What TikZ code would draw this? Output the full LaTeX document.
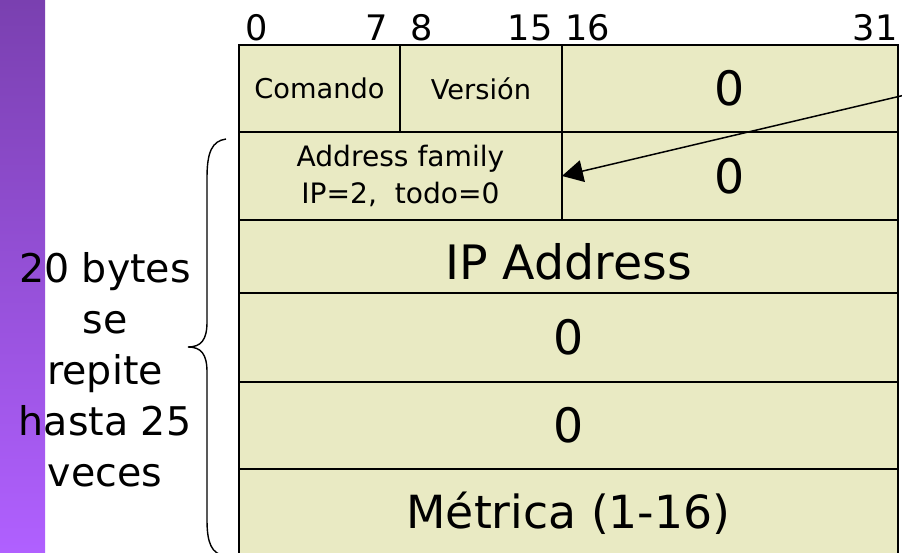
\documentclass[tikz,border=0pt]{standalone}
\usepackage{fontspec}
\setmainfont{DejaVu Sans}
\usetikzlibrary{%
  arrows.meta,%
  positioning,% wg. " of "
}

\definecolor{cellfill}{RGB}{233,234,195}
\definecolor{bartop}{RGB}{122,64,176}
\definecolor{barbot}{RGB}{176,96,255}

\tikzset{
  cell/.style={draw=black, line width=1pt, fill=cellfill, inner sep=0pt,
    outer sep=0pt, align=center},
  bitnum/.style={inner sep=0pt, font=\fontsize{20}{24}\selectfont},
  small/.style={font=\fontsize{15.5}{19}\selectfont},
  big/.style={font=\fontsize{27}{32}\selectfont},
}

\begin{document}
\begin{tikzpicture}[x=0.02cm, y=-0.02cm]
\useasboundingbox (0,0) rectangle (902,553);
\shade [top color=bartop, bottom color=barbot] (0,0) rectangle (45,553);

% bit numbers
\node [bitnum, anchor=base west] (b0)  at (245,41) {0};
\node [bitnum, anchor=base east] (b7)  at (388,41) {7};
\node [bitnum, anchor=base west] (b8)  at (410,41) {8};
\node [bitnum, anchor=base east] (b15) at (553,41) {15};
\node [bitnum, anchor=base west] (b16) at (565,41) {16};
\node [bitnum, anchor=base east] (b31) at (898,41) {31};

% header
\node [cell, small, anchor=north west, minimum width=3.22cm, minimum height=1.74cm] (cmd) at (239,45) {Comando};
\node [cell, small, right=0pt of cmd, minimum width=3.24cm, minimum height=1.74cm] (ver) {Versión};
\node [cell, big, right=0pt of ver, minimum width=6.72cm, minimum height=1.74cm] (zhd) {0};

% route entry
\node [cell, font=\fontsize{16}{21}\selectfont, below=0pt of cmd.south west, anchor=north west,
  minimum width=6.46cm, minimum height=1.76cm] (fam) {Address family\\IP=2,~ todo=0};
\node [cell, big, right=0pt of fam, minimum width=6.72cm, minimum height=1.76cm] (ztag) {0};
\node [cell, big, below=0pt of fam.south west, anchor=north west,
  minimum width=13.18cm, minimum height=1.46cm] (ip) {\raisebox{-0.1cm}[\height][\depth]{IP Address}};
\node [cell, big, below=0pt of ip, minimum width=13.18cm, minimum height=1.78cm] (zmask) {0};
\node [cell, big, below=0pt of zmask, minimum width=13.18cm, minimum height=1.74cm] (zhop) {0};
\node [cell, font=\fontsize{26}{31}\selectfont, below=0pt of zhop, minimum width=13.18cm,
  minimum height=1.78cm] (met) {Métrica (1-16)};

% arrow
\coordinate (src) at (905,95);
\draw [-{Triangle[length=4.2mm, width=4.4mm]}, line width=0.85pt] (src) -- (fam.east);

% brace
\draw [line width=0.8pt] (226,139) .. controls (212,141) and (207,152) .. (207,178)
  -- (207,322) .. controls (207,340) and (201,347) .. (188,347)
  .. controls (201,347) and (207,354) .. (207,372)
  -- (207,520) .. controls (207,544) and (212,553) .. (224,556);
\node [font=\fontsize{22.5}{29}\selectfont, align=center] (rep) at (105,370)
  {20 bytes\\se\\repite\\hasta 25\\veces};
\end{tikzpicture}
\end{document}
